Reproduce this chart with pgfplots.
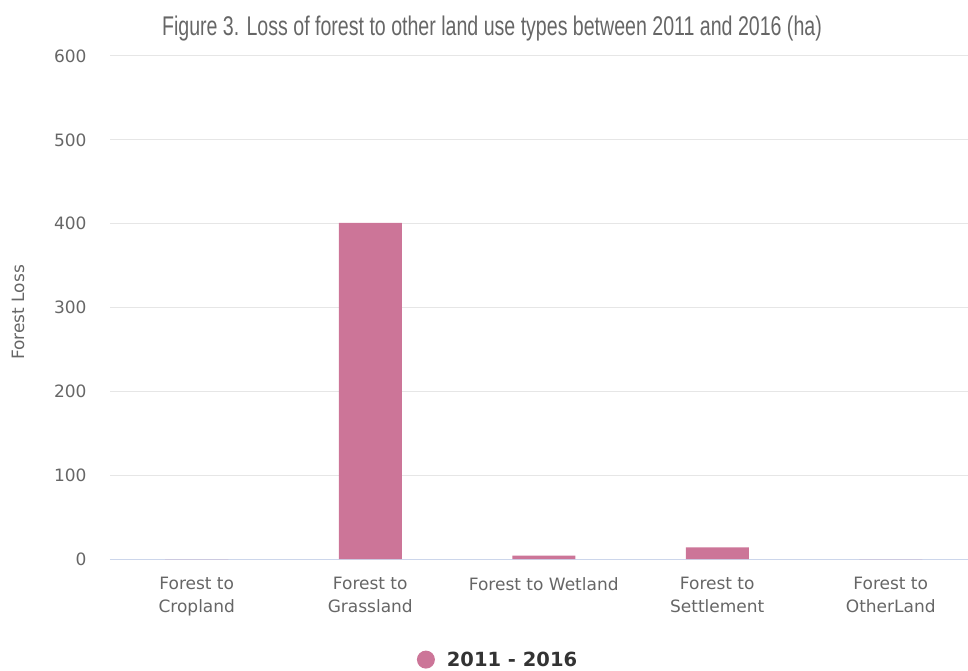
\documentclass[border=0pt]{standalone}
\usepackage{fontspec}
\setmainfont{DejaVu Sans}
\newfontfamily\titlefont[FakeStretch=0.725]{Liberation Sans}
\usepackage{pgfplots}
\pgfplotsset{compat=1.18}
\definecolor{barpink}{RGB}{204,117,152}
\definecolor{tickgray}{RGB}{102,102,102}
\definecolor{legendtext}{RGB}{51,51,51}
\definecolor{gridgray}{RGB}{230,230,230}
\definecolor{axisblue}{RGB}{204,214,235}
\begin{document}
\begin{tikzpicture}
\useasboundingbox (-110pt,-112pt) rectangle (858pt,559pt);
\begin{axis}[
  at={(0,0)}, anchor=south west,
  scale only axis, width=867.5pt, height=503pt,
  xmin=-0.5, xmax=4.5, ymin=0, ymax=600,
  ytick={0,100,200,300,400,500,600},
  xtick={0,1,2,3,4},
  xticklabels={{Forest to\\Cropland},{Forest to\\Grassland},{Forest to Wetland},{Forest to\\Settlement},{Forest to\\OtherLand}},
  /pgf/number format/assume math mode=true,
  major tick length=0pt,
  axis x line*=bottom, axis y line*=left,
  x axis line style={draw=axisblue, line width=1pt, -},
  y axis line style={draw=none},
  ymajorgrids, grid style={draw=gridgray, line width=1pt},
  xticklabel style={align=center, font=\fontsize{17}{23}\selectfont, text=tickgray, yshift=-15pt},
  yticklabel style={font=\fontsize{17}{20}\selectfont, text=tickgray, xshift=-20pt},
  ylabel={Forest Loss},
  ylabel style={at={(axis description cs:-0.1061,0.49)}, anchor=center, font=\fontsize{17}{20}\selectfont, text=tickgray},
  legend style={at={(0.4473,-0.2)}, anchor=center, draw=none, fill=none, font=\bfseries\fontsize{19.5}{24}\selectfont, text=legendtext},
  legend image code/.code={\fill[barpink] (0pt,0pt) circle (9pt); \path (19pt,0pt);},
]
\addplot[ybar, bar width=63pt, fill=barpink, draw=none] coordinates {(0,0) (1,401) (2,4) (3,14) (4,0)};
\addlegendentry{2011 - 2016}
\end{axis}
\node[font=\titlefont\fontsize{27}{32}\selectfont, text=tickgray, anchor=base] at (382pt,523pt) {Figure 3. Loss of forest to other land use types between 2011 and 2016 (ha)};
\end{tikzpicture}
\end{document}
